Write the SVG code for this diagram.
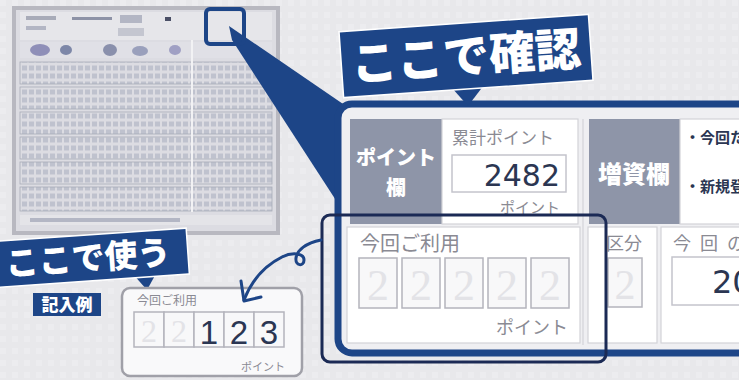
<svg xmlns="http://www.w3.org/2000/svg" width="739" height="380" viewBox="0 0 739 380">
<style>
.jp{font-family:"Noto Sans CJK JP","Noto Sans",sans-serif}
.lbl{fill:#ffffff;font-weight:900}
.gray{fill:#8a8a93}
.cell{fill:#ffffff;stroke:#d2d2d8;stroke-width:1.2}
.gcell{fill:#8e95a8}
.box{fill:#f8f8f9;stroke:#b4b4bc;stroke-width:1.5}
.guide{fill:#e3e3e7;font-family:"Liberation Serif",serif}
.num{fill:#2b3652;font-family:"DejaVu Sans",sans-serif}
.blue{fill:#1d4587}
</style>
<defs>
<pattern id="txt" width="7" height="8" patternUnits="userSpaceOnUse">
<rect x="1" y="1.5" width="5" height="5" fill="#bfc2ce"/>
</pattern>
<pattern id="bg" width="12" height="12" patternUnits="userSpaceOnUse">
<rect width="12" height="12" fill="#e8e8eb"/>
<rect width="6" height="6" fill="#ececef"/>
</pattern>
</defs>
<rect width="739" height="380" fill="url(#bg)"/>

<g id="form-thumbnail">
<rect x="14" y="8" width="264" height="225" fill="#dcdce2" stroke="#b8b8c0" stroke-width="4"/>
<rect x="20" y="12" width="252" height="28" fill="#e6e6ea"/>
<rect x="26" y="16" width="30" height="4" fill="#a8abb8"/>
<rect x="72" y="17" width="40" height="3" fill="#8d92a6"/>
<rect x="120" y="15" width="22" height="8" fill="#b3b6c4"/>
<rect x="165" y="17" width="6" height="4" fill="#4a4f66"/>
<rect x="26" y="26" width="20" height="4" fill="#b3b6c4"/>
<rect x="118" y="28" width="26" height="8" fill="#c4c6d0"/>
<rect x="20" y="42" width="252" height="16" fill="#e0e0e6"/>
<ellipse cx="40" cy="50" rx="10" ry="6" fill="#8f8fb8"/>
<ellipse cx="66" cy="50" rx="6" ry="5" fill="#7d87a8"/>
<ellipse cx="110" cy="50" rx="7" ry="6" fill="#8a90ac"/>
<ellipse cx="140" cy="51" rx="8" ry="5" fill="#9aa0bc"/>
<ellipse cx="175" cy="50" rx="6" ry="5" fill="#a0a0c4"/>
<rect x="20" y="62" width="252" height="22" fill="url(#txt)" stroke="#a9acb8" stroke-width="0.8"/>
<rect x="20" y="87" width="252" height="22" fill="url(#txt)" stroke="#a9acb8" stroke-width="0.8"/>
<rect x="20" y="112" width="252" height="22" fill="url(#txt)" stroke="#a9acb8" stroke-width="0.8"/>
<rect x="20" y="137" width="252" height="22" fill="url(#txt)" stroke="#a9acb8" stroke-width="0.8"/>
<rect x="20" y="162" width="252" height="22" fill="url(#txt)" stroke="#a9acb8" stroke-width="0.8"/>
<rect x="20" y="187" width="252" height="24" fill="url(#txt)" stroke="#a9acb8" stroke-width="0.8"/>
<rect x="20" y="215" width="252" height="10" fill="#e4e4e8"/>
<rect x="30" y="218" width="150" height="4" fill="#b3b6c4"/>
<line x1="192" y1="40" x2="192" y2="212" stroke="#f2f2f4" stroke-width="2"/>
</g>

<g id="beam">
<polygon class="blue" points="229,26 346,106 339,205 232,40"/>
<rect x="206" y="9" width="38" height="35" rx="4" fill="none" stroke="#1d4587" stroke-width="4"/>
</g>

<g id="panel">
<rect x="338" y="104" width="430" height="249" rx="14" fill="#efeff2" stroke="#1d4587" stroke-width="7"/>
<rect class="gcell" x="350" y="119" width="92" height="105"/>
<text class="jp lbl" x="396" y="165" font-size="20" text-anchor="middle">ポイント</text>
<text class="jp lbl" x="396" y="195" font-size="20" text-anchor="middle">欄</text>
<rect class="cell" x="442" y="119" width="136" height="105"/>
<text class="jp gray" x="452" y="144" font-size="17">累計ポイント</text>
<rect x="452" y="155" width="114" height="37" fill="#ffffff" stroke="#c4c4cc" stroke-width="1.5"/>
<text class="num" x="560" y="186" font-size="30" text-anchor="end">2482</text>
<text class="jp gray" x="560" y="213" font-size="15" text-anchor="end">ポイント</text>
<line x1="583" y1="119" x2="583" y2="345" stroke="#d2d2d8" stroke-width="1.2"/>
<rect class="gcell" x="589" y="119" width="91" height="105"/>
<text class="jp lbl" x="634" y="183" font-size="24" text-anchor="middle">増資欄</text>
<rect class="cell" x="680" y="119" width="80" height="105"/>
<text class="jp" x="685" y="143" font-size="15" font-weight="700" fill="#2b3652">・今回た</text>
<text class="jp" x="685" y="192" font-size="15" font-weight="700" fill="#2b3652">・新規登</text>
</g>

<g id="usage-cell">
<rect class="cell" x="347" y="227" width="233" height="116"/>
<text class="jp gray" x="360" y="251" font-size="20">今回ご利用</text>
<rect class="box" x="359" y="258" width="38" height="50"/>
<rect class="box" x="402" y="258" width="38" height="50"/>
<rect class="box" x="445" y="258" width="38" height="50"/>
<rect class="box" x="488" y="258" width="38" height="50"/>
<rect class="box" x="531" y="258" width="38" height="50"/>
<text class="guide" x="378" y="300" font-size="44" text-anchor="middle">2</text>
<text class="guide" x="421" y="300" font-size="44" text-anchor="middle">2</text>
<text class="guide" x="464" y="300" font-size="44" text-anchor="middle">2</text>
<text class="guide" x="507" y="300" font-size="44" text-anchor="middle">2</text>
<text class="guide" x="550" y="300" font-size="44" text-anchor="middle">2</text>
<text class="jp gray" x="568" y="334" font-size="18" text-anchor="end">ポイント</text>
</g>

<g id="kubun-cell">
<rect class="cell" x="588" y="227" width="69" height="116"/>
<text class="jp gray" x="606" y="250" font-size="18">区分</text>
<rect class="box" x="608" y="258" width="34" height="49"/>
<text class="guide" x="625" y="299" font-size="42" text-anchor="middle">2</text>
</g>

<g id="konkai-cell">
<rect class="cell" x="661" y="227" width="100" height="116"/>
<text class="jp gray" x="673" y="250" font-size="18" letter-spacing="9">今回の</text>
<rect x="672" y="257" width="90" height="48" fill="#ffffff" stroke="#c4c4cc" stroke-width="1.5"/>
<text class="num" x="712" y="293" font-size="32">20</text>
</g>

<g id="highlight">
<rect x="322" y="215" width="284" height="147" rx="8" fill="none" stroke="#1b2a55" stroke-width="3"/>
</g>

<g id="label-kakunin">
<polygon class="blue" points="452,88 484,85 468,106"/>
<g transform="translate(466,56) rotate(-4)">
<rect x="-125" y="-33" width="250" height="66" class="blue" stroke="#ffffff" stroke-width="1.5"/>
<text class="jp lbl" x="0" y="17" font-size="46" text-anchor="middle">ここで確認</text>
</g>
</g>

<g id="label-tsukau">
<polygon class="blue" points="132,273 158,270 147,290"/>
<g transform="translate(88,258) rotate(-4)">
<rect x="-100" y="-23" width="200" height="46" class="blue" stroke="#ffffff" stroke-width="1.5"/>
<text class="jp lbl" x="0" y="12" font-size="33" text-anchor="middle">ここで使う</text>
</g>
</g>

<g id="label-kinyurei">
<rect class="blue" x="33" y="293" width="68" height="23"/>
<text class="jp lbl" x="67" y="311" font-size="17" text-anchor="middle">記入例</text>
</g>

<g id="example">
<rect x="122" y="288" width="180" height="88" rx="8" fill="#f9f9fa" stroke="#a0a0a8" stroke-width="2.5"/>
<text class="jp gray" x="137" y="305" font-size="12">今回ご利用</text>
<rect class="box" x="134" y="312" width="30" height="35"/>
<rect class="box" x="164" y="312" width="30" height="35"/>
<rect class="box" x="194" y="312" width="30" height="35"/>
<rect class="box" x="224" y="312" width="30" height="35"/>
<rect class="box" x="254" y="312" width="30" height="35"/>
<text class="guide" x="149" y="342" font-size="32" text-anchor="middle">2</text>
<text class="guide" x="179" y="342" font-size="32" text-anchor="middle">2</text>
<text x="209" y="344" font-size="33" text-anchor="middle" fill="#2b3652" font-family="Liberation Sans, sans-serif">1</text>
<text x="239" y="344" font-size="33" text-anchor="middle" fill="#2b3652" font-family="Liberation Sans, sans-serif">2</text>
<text x="269" y="344" font-size="33" text-anchor="middle" fill="#2b3652" font-family="Liberation Sans, sans-serif">3</text>
<text class="jp gray" x="285" y="371" font-size="11" text-anchor="end">ポイント</text>
</g>

<g id="connectors">
<path d="M321,240 C306,243 297,250 296,258 C295,266 304,267 304,260 C304,253 292,252 282,257 C264,266 251,282 244,300" fill="none" stroke="#1d4587" stroke-width="3" stroke-linecap="round"/>
<path d="M241,281 L244,301 L261,297" fill="none" stroke="#1d4587" stroke-width="3" stroke-linecap="round" stroke-linejoin="round"/>
</g>
</svg>
